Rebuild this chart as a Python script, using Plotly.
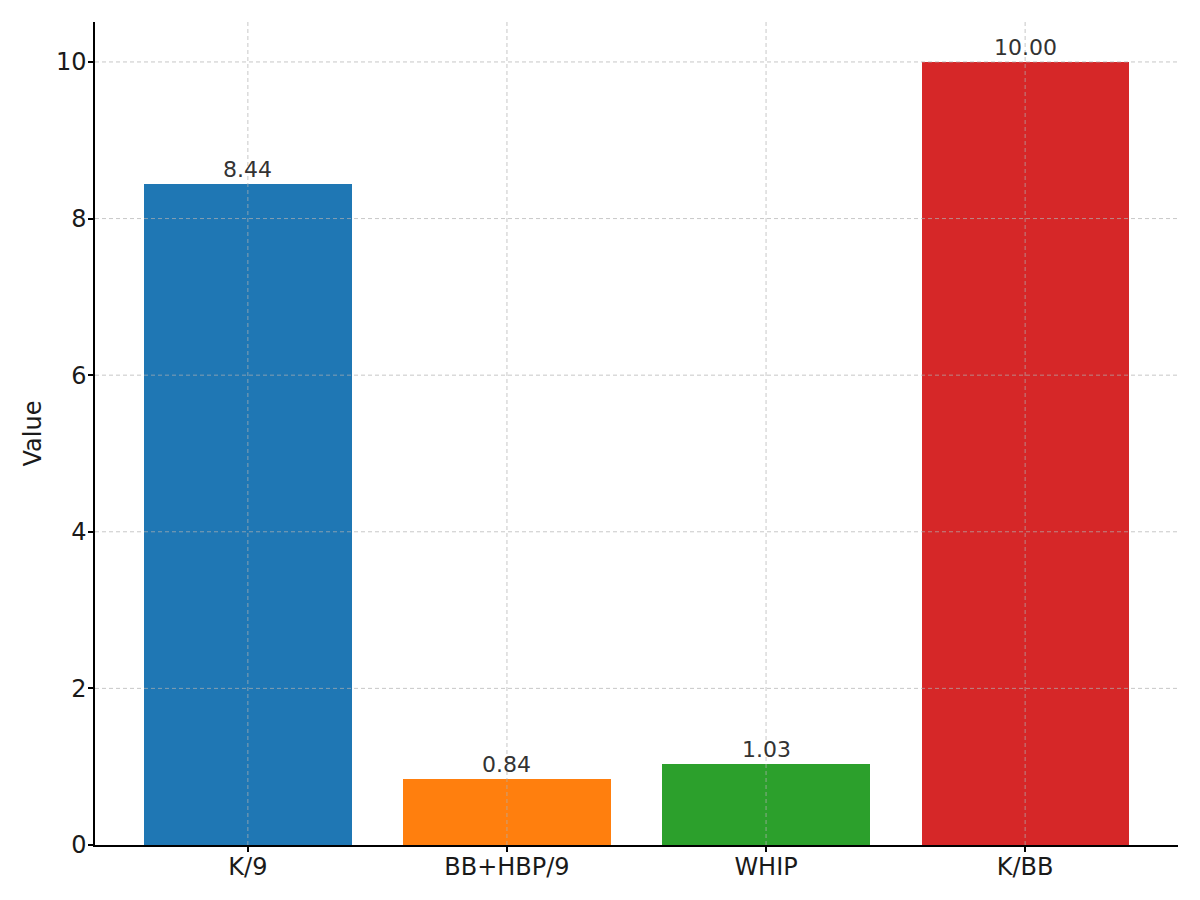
import plotly.graph_objects as go

categories = ["K/9", "BB+HBP/9", "WHIP", "K/BB"]
values = [8.44, 0.84, 1.03, 10.00]
colors = ["#1f77b4", "#ff7f0e", "#2ca02c", "#d62728"]
y_ticks = [0, 2, 4, 6, 8, 10]

xpos = list(range(len(categories)))

fig = go.Figure()
fig.add_trace(go.Bar(
    x=xpos, y=values, width=0.8,
    marker=dict(color=colors, line=dict(width=0)),
    showlegend=False, hoverinfo="x+y",
))

for i, v in zip(xpos, values):
    fig.add_annotation(x=i, y=v, text=f"{v:.2f}", showarrow=False,
                       yanchor="bottom", xanchor="center", yshift=0,
                       font=dict(family="DejaVu Sans", size=22, color="#333333"))

grid_style = dict(color="rgba(176,176,176,0.7)", width=1, dash="4px,3px")
for t in y_ticks[1:]:
    fig.add_shape(type="line", xref="paper", yref="y", x0=0, x1=1, y0=t, y1=t,
                  line=grid_style, layer="above")
for i in xpos:
    fig.add_shape(type="line", xref="x", yref="paper", x0=i, x1=i, y0=0, y1=1,
                  line=grid_style, layer="above")

fig.update_layout(
    width=1200, height=900,
    margin=dict(l=95, r=22, t=22, b=55),
    paper_bgcolor="white", plot_bgcolor="white",
    font=dict(family="DejaVu Sans", size=24, color="#1a1a1a"),
    bargap=0,
)
fig.update_xaxes(
    range=[-0.59, 3.59], tickmode="array", tickvals=xpos, ticktext=categories,
    showgrid=False, zeroline=False, showline=True, linecolor="black", linewidth=1.5,
    ticks="outside", ticklen=5, tickwidth=1.5, tickcolor="black",
    tickfont=dict(size=24), ticklabelstandoff=-6,
)
fig.update_yaxes(
    range=[0, 10.51], tickmode="array", tickvals=y_ticks,
    showgrid=False, zeroline=False, showline=True, linecolor="black", linewidth=1.5,
    ticks="outside", ticklen=5, tickwidth=1.5, tickcolor="black",
    tickfont=dict(size=24), ticklabelstandoff=-3,
    title=dict(text="Value", font=dict(size=24), standoff=8),
)

fig.write_html("out.html")
